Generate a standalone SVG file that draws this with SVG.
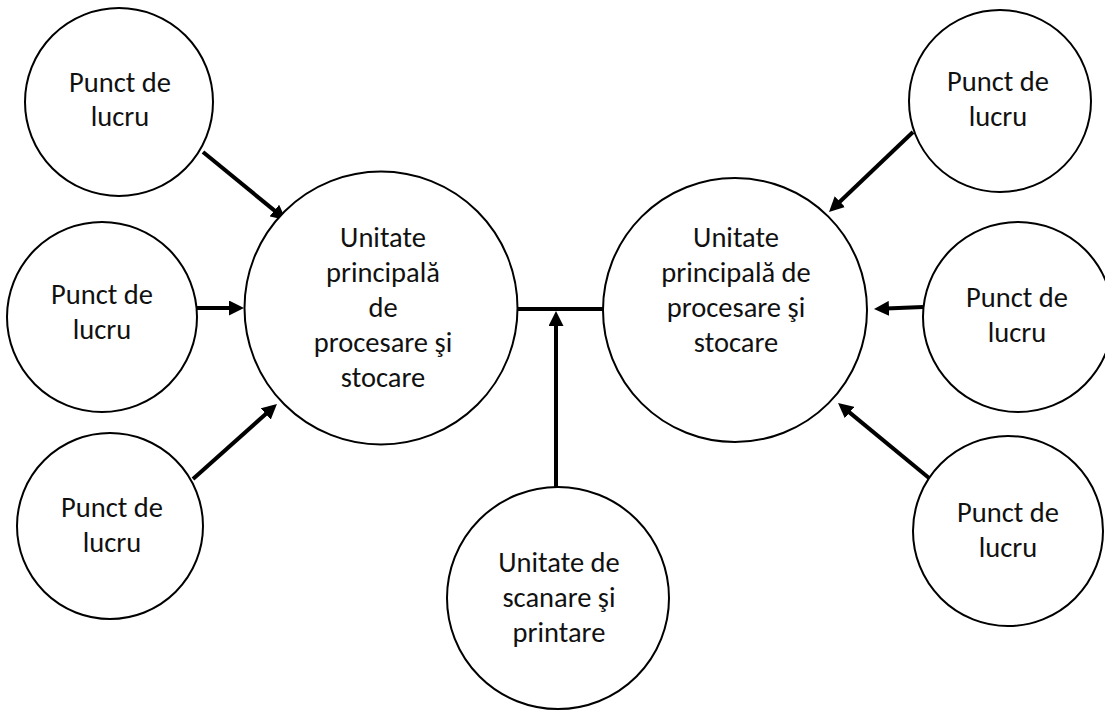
<svg xmlns="http://www.w3.org/2000/svg" width="1105" height="712" viewBox="0 0 1105 712">
  <style>
    .node circle { fill: #ffffff; stroke: #000000; stroke-width: 2; }
    .node text { font-family: Carlito, Lato, "Liberation Sans", sans-serif; font-size: 28.5px; fill: #111111; text-anchor: middle; }
    .conn line { stroke: #000000; stroke-width: 4; }
    .conn .arrow { marker-end: url(#head); }
  </style>
  <defs>
    <marker id="head" markerUnits="userSpaceOnUse" markerWidth="15" markerHeight="15" refX="3" refY="7.5" orient="auto">
      <path d="M0,0 L15,7.5 L0,15 z" fill="#000000"/>
    </marker>
  </defs>
  <rect width="1105" height="712" fill="#ffffff"/>

  <!-- connectors -->
  <g id="connectors" class="conn">
    <line class="arrow" x1="203" y1="152" x2="276.7" y2="212.4"/>
    <line class="arrow" x1="197" y1="308" x2="232" y2="308"/>
    <line class="arrow" x1="193" y1="479" x2="268" y2="412"/>
    <line x1="516" y1="309" x2="603" y2="309"/>
    <line class="arrow" x1="556" y1="488" x2="556" y2="323"/>
    <line class="arrow" x1="913" y1="132" x2="837.7" y2="203.7"/>
    <line class="arrow" x1="923" y1="307" x2="886" y2="308.5"/>
    <line class="arrow" x1="929" y1="478" x2="847.3" y2="410.6"/>
  </g>

  <!-- left workstations -->
  <g id="punct-stanga-sus" class="node">
    <circle cx="119" cy="102" r="94"/>
    <text x="120" y="92">Punct de</text>
    <text x="120" y="126">lucru</text>
  </g>
  <g id="punct-stanga-mijloc" class="node">
    <circle cx="102" cy="317" r="95"/>
    <text x="102" y="304">Punct de</text>
    <text x="102" y="339">lucru</text>
  </g>
  <g id="punct-stanga-jos" class="node">
    <circle cx="110" cy="526" r="93"/>
    <text x="112" y="517">Punct de</text>
    <text x="112" y="552">lucru</text>
  </g>

  <!-- main processing and storage units -->
  <g id="unitate-stanga" class="node">
    <circle cx="381" cy="308" r="136.5"/>
    <text x="383" y="247">Unitate</text>
    <text x="383" y="282">principală</text>
    <text x="383" y="317">de</text>
    <text x="383" y="352">procesare şi</text>
    <text x="383" y="387">stocare</text>
  </g>
  <g id="unitate-dreapta" class="node">
    <circle cx="735" cy="310" r="132"/>
    <text x="736" y="247">Unitate</text>
    <text x="736" y="282">principală de</text>
    <text x="736" y="317">procesare şi</text>
    <text x="736" y="352">stocare</text>
  </g>

  <!-- scanning and printing unit -->
  <g id="unitate-scanare" class="node">
    <circle cx="558" cy="598" r="111"/>
    <text x="559" y="572">Unitate de</text>
    <text x="559" y="607">scanare şi</text>
    <text x="559" y="642">printare</text>
  </g>

  <!-- right workstations -->
  <g id="punct-dreapta-sus" class="node">
    <circle cx="1000" cy="101" r="91"/>
    <text x="998" y="91">Punct de</text>
    <text x="998" y="126">lucru</text>
  </g>
  <g id="punct-dreapta-mijloc" class="node">
    <circle cx="1018" cy="317" r="95"/>
    <text x="1017" y="307">Punct de</text>
    <text x="1017" y="342">lucru</text>
  </g>
  <g id="punct-dreapta-jos" class="node">
    <circle cx="1008" cy="531" r="95"/>
    <text x="1008" y="522">Punct de</text>
    <text x="1008" y="557">lucru</text>
  </g>
</svg>
